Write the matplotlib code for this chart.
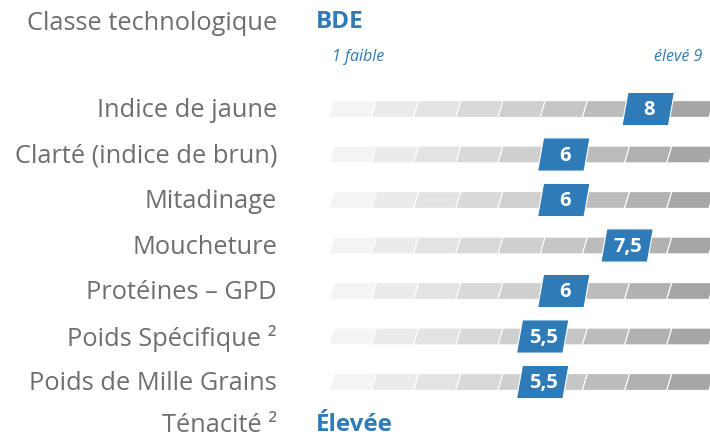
import matplotlib.pyplot as plt
from matplotlib.patches import Polygon

# rows of the quality profile, score on a 1..9 scale
criteria = [
    "Indice de jaune",
    "Clarté (indice de brun)",
    "Mitadinage",
    "Moucheture",
    "Protéines – GPD",
    "Poids Spécifique ²",
    "Poids de Mille Grains",
]
scores = [8, 6, 6, 7.5, 6, 5.5, 5.5]
n_steps = 9
step_colors = ["#f4f4f4", "#ebebeb", "#e3e3e2", "#d9d9d9", "#cfcfcf",
               "#c6c6c6", "#bcbcbc", "#b1b1b1", "#a6a6a6"]

header_label, header_value = "Classe technologique", "BDE"
footer_label, footer_value = "Ténacité ²", "Élevée"
scale_low, scale_high = "1 faible", "élevé 9"

BLUE = "#2f7bb7"
GREY_TXT = "#6e6e6e"
FONT = "Open Sans"
LABEL_SIZE = 18.3

fig = plt.figure(figsize=(7.1, 4.4), dpi=100)
ax = fig.add_axes([0, 0, 1, 1])
# x in score steps, y in rows
px_step, x0_px = 42.2, 331.7
row_px, y0_px = 45.5, 109
ax.set_xlim(-x0_px / px_step, (710 - x0_px) / px_step)
ax.set_ylim((440 - y0_px) / row_px, -y0_px / row_px)
ax.axis("off")

bar_h = 0.37
slant = 0.06
label_x = (277 - x0_px) / px_step
value_x = (316 - x0_px) / px_step
dy = 0.04  # nudge text down a little

for i, (name, s) in enumerate(zip(criteria, scores)):
    ax.text(label_x, i + dy, name, ha="right", va="center",
            fontsize=LABEL_SIZE, color=GREY_TXT, family=FONT)
    for k in range(n_steps):
        pts = [(k - slant, i + bar_h / 2), (k + 1 - slant, i + bar_h / 2),
               (k + 1 + slant, i - bar_h / 2), (k + slant, i - bar_h / 2)]
        ax.add_patch(Polygon(pts, closed=True, facecolor=step_colors[k],
                             edgecolor="white", linewidth=0.8))
    # value badge
    c = s - 0.5
    w, h, sk = 1.1, 0.73, 0.07
    badge = [(c - w / 2 - sk, i + h / 2), (c + w / 2 - sk, i + h / 2),
             (c + w / 2 + sk, i - h / 2), (c - w / 2 + sk, i - h / 2)]
    ax.add_patch(Polygon(badge, closed=True, facecolor=BLUE,
                         edgecolor="white", linewidth=0.8, zorder=3))
    ax.text(c + 0.02, i + 0.03, f"{s:g}".replace(".", ","), ha="center",
            va="center", fontsize=14.5, fontweight="bold", color="white",
            family=FONT, zorder=4)

head_y = (22 - y0_px) / row_px
foot_y = (425 - y0_px) / row_px
scale_y = (57 - y0_px) / row_px
ax.text(label_x, head_y + dy, header_label, ha="right", va="center",
        fontsize=LABEL_SIZE, color=GREY_TXT, family=FONT)
ax.text(value_x, head_y, header_value, ha="left", va="center", fontsize=17.5,
        fontweight="bold", color=BLUE, family=FONT)
ax.text(label_x, foot_y, footer_label, ha="right", va="center",
        fontsize=LABEL_SIZE, color=GREY_TXT, family=FONT)
ax.text(value_x, foot_y, footer_value, ha="left", va="center", fontsize=17.4,
        fontweight="bold", color=BLUE, family=FONT)
ax.text(0, scale_y, scale_low, ha="left", va="center", fontsize=11.5,
        style="italic", color=BLUE, family=FONT)
ax.text((702 - x0_px) / px_step, scale_y, scale_high, ha="right",
        va="center", fontsize=11.5, style="italic", color=BLUE, family=FONT)

fig.savefig("out.png", dpi=100)
